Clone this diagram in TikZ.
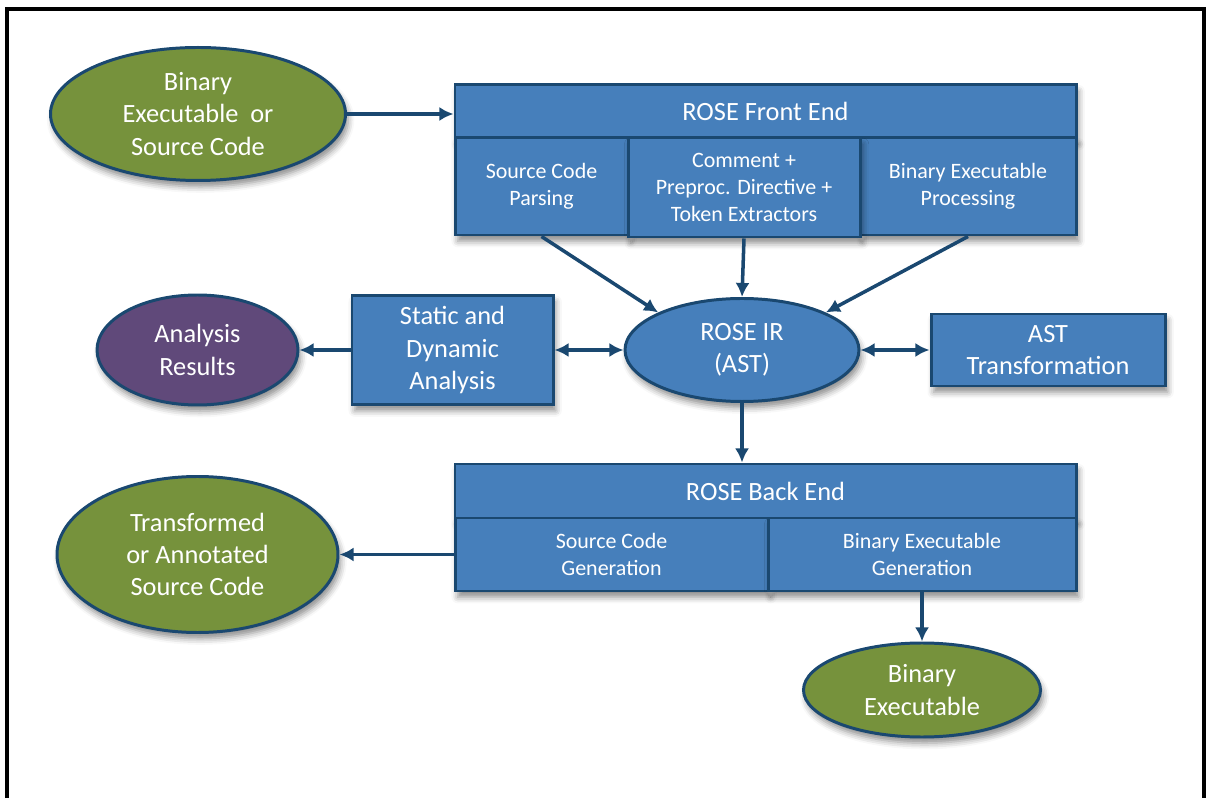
\documentclass[tikz,border=0pt]{standalone}
\usepackage{fontspec}
\setmainfont{Carlito}
\usepackage{tikz}
\usetikzlibrary{arrows.meta, shapes.geometric, shadows.blur}
\definecolor{roseblue}{RGB}{70,127,187}
\definecolor{roseline}{RGB}{26,72,112}
\definecolor{rosegreen}{RGB}{118,146,60}
\definecolor{rosepurple}{RGB}{96,73,122}
\tikzset{>={Latex[length=8pt,width=8pt]}}
\tikzset{
  blk/.style={draw=roseline, line width=1.7pt, fill=roseblue, text=white, inner sep=0pt, align=center,
    blur shadow={shadow xshift=1.5pt, shadow yshift=-3.5pt, shadow blur radius=3.5pt, shadow opacity=45}},
  oval/.style={blk, ellipse},
  bigtxt/.style={font=\fontsize{15}{18.3}\selectfont},
  subtxt/.style={font=\fontsize{12.5}{15.5}\selectfont},
  arr/.style={draw=roseline, line width=2pt, ->}
}

\begin{document}
\begin{tikzpicture}
\useasboundingbox (0,0) rectangle (24.22,15.96);
\draw[line width=2.8pt] (0.14,0) -- (0.14,15.78) -- (24.08,15.78) -- (24.08,0);
\node[oval, fill=rosegreen, bigtxt, minimum width=5.9cm, minimum height=2.66cm] (src) at (3.96,13.68) {Binary\\Executable\ \ or\\Source Code};
\node[blk, bigtxt, minimum width=12.42cm, minimum height=1.06cm] (fehead) at (15.31,13.73) {ROSE Front End};
\node[blk, subtxt, minimum width=3.46cm, minimum height=1.94cm] (parse) at (10.83,12.23) {Source Code\\Parsing};
\node[blk, subtxt, minimum width=4.32cm, minimum height=1.94cm] (binproc) at (19.36,12.23) {Binary Executable\\Processing};
\node[blk, subtxt, minimum width=4.64cm, minimum height=1.98cm] (tok) at (14.88,12.21) {Comment +\\Preproc. Directive +\\Token Extractors};
\node[oval, bigtxt, minimum width=4.68cm, minimum height=2.06cm] (ir) at (14.84,8.96) {ROSE IR\\(AST)};
\node[blk, bigtxt, minimum width=4.02cm, minimum height=2.18cm] (sda) at (9.05,8.96) {Static and\\Dynamic\\Analysis};
\node[oval, fill=rosepurple, bigtxt, minimum width=4.02cm, minimum height=2.2cm] (res) at (3.95,8.96) {Analysis\\Results};
\node[blk, bigtxt, minimum width=4.68cm, minimum height=1.44cm] (ast) at (20.96,8.96) {AST\\Transformation};
\node[blk, bigtxt, minimum width=12.42cm, minimum height=1.08cm] (behead) at (15.31,6.14) {ROSE Back End};
\node[blk, subtxt, minimum width=6.26cm, minimum height=1.46cm] (scgen) at (12.23,4.87) {Source Code\\Generation};
\node[blk, subtxt, minimum width=6.16cm, minimum height=1.46cm] (begen) at (18.44,4.87) {Binary Executable\\Generation};
\node[oval, fill=rosegreen, bigtxt, minimum width=5.62cm, minimum height=3.12cm] (trans) at (3.95,4.87) {Transformed\\or Annotated\\Source Code};
\node[oval, fill=rosegreen, bigtxt, minimum width=4.74cm, minimum height=1.88cm] (binexe) at (18.44,2.16) {Binary\\Executable};
\draw[arr] (src.east) -- (src.east -| fehead.west);
\foreach \a/\b in {parse.south/ir.north west, tok.south/ir.north, binproc.south/ir.north east}{
\draw[arr] (\a) -- (\b);
}
\draw[arr, <->] (sda.east) -- (ir.west);
\draw[arr] (sda.west) -- (res.east);
\draw[arr, <->] (ir.east) -- (ast.west);
\draw[arr] (ir.south) -- (ir.south |- behead.north);
\draw[arr] (scgen.west) -- (trans.east);
\draw[arr] (begen.south) -- (binexe.north);
\end{tikzpicture}
\end{document}
